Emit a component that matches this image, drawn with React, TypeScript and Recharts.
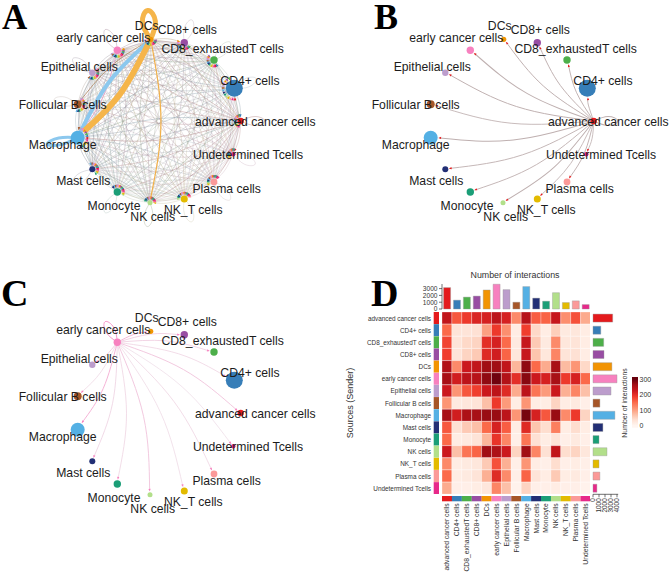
import React from "react";
import { ComposedChart, BarChart, Bar, Line, Scatter, XAxis, YAxis, Cell } from "recharts";

const cellTypes = ["advanced cancer cells","CD4+ cells","CD8_exhaustedT cells","CD8+ cells","DCs","early cancer cells","Epithelial cells","Follicular B cells","Macrophage","Mast cells","Monocyte","NK cells","NK_T cells","Plasma cells","Undetermined Tcells"];
const palette = ["#E41A1C","#377EB8","#4DAF4A","#984EA3","#F29403","#F781BF","#BC9DCC","#A65628","#54B0E4","#222F75","#1B9E77","#B2DF8A","#E3BB00","#FB9A99","#E7298A"];
const nodeX = [240.7,234.3,214,184.3,150.7,117.3,92.3,77.7,77.7,92.3,117.3,150,184.3,214,233.3];
const nodeY = [121,88.3,60,42.7,39.3,50.3,72.7,104.3,137.7,169.3,192,202.7,199,182,154.3];
const nodeR = [3.2,8.5,3.7,3.7,2.6,3.7,3.2,4,7,3,3.7,2.5,3.5,3.4,2.2];
const labelX = [255.3,250,222.7,187.3,146.7,103.3,79.3,62.7,62.7,83.3,114,152.7,193.3,226.7,248];
const labelY = [122,80.7,48.7,30,26,38.3,66.7,105,145,181,206,216.7,210,189,155.3];

const interactions = [
  [235,165,190,210,215,240,215,120,245,160,155,230,115,170,90],
  [150,30,30,35,100,190,115,15,185,45,15,55,20,25,15],
  [180,30,45,50,200,215,150,20,230,60,20,120,25,30,15],
  [185,30,50,60,205,220,155,25,230,65,25,125,30,35,15],
  [250,120,225,235,265,265,235,80,275,150,90,260,75,110,45],
  [260,220,240,245,275,295,250,200,280,225,215,260,190,215,150],
  [225,110,165,185,225,240,205,90,240,140,105,225,85,125,70],
  [110,20,25,30,70,190,105,15,110,15,15,50,15,20,10],
  [260,220,255,260,270,270,240,110,290,215,165,270,120,190,50],
  [165,35,60,70,150,215,160,15,205,65,40,130,15,40,15],
  [150,15,20,30,80,195,125,10,140,35,15,30,10,20,10],
  [225,70,140,155,265,255,225,50,265,125,35,235,40,50,25],
  [120,15,20,25,60,170,85,10,110,15,10,40,10,15,10],
  [150,15,20,30,85,205,120,10,155,30,15,60,15,20,10],
  [90,10,10,15,25,125,70,5,50,10,10,15,10,10,5],
];
const outgoingTotals = [3280,1300,1780,1830,3150,4000,3000,1150,3650,1650,1000,2330,1000,1150,650];
const incomingTotals = [3150,1300,1750,1900,2800,3650,2850,1000,3300,1600,1150,2400,950,1200,650];
const reds = ["#FFF5F0","#FEE0D2","#FCBBA1","#FC9272","#FB6A4A","#EF3B2C","#CB181D","#A50F15","#67000D"];
const countTicks = [0,1000,2000,3000];
const totalTicks = [0,1000,2000,3000,4000];
const legendTicks = [0,100,200,300];
// [sender, receiver, line width, colour] for the strongest edges of panel A
const strongEdges: [number, number, number, string][] = [
  [4,8,6,"#F5B54A"],[8,4,4,"#8CC8EE"],[4,11,1.2,"#F0B04A"],[5,8,1,"#E6A5C8"],[7,4,0.9,"#B08A6A"],
];
const strongLoops: [number, number, number, number, string][] = [
  [4,29,6.5,5,"#F5B54A"],[8,31,3.5,3,"#8CC8EE"],
];

const WIDTH = 316, HEIGHT = 240, CX = 159, CY = 121;
const hex = (c: string) => [1,3,5].map(i => parseInt(c.slice(i,i+2),16));
const mix = (a: string, b: string, t: number) => {
  const A = hex(a), B = hex(b);
  return "rgb(" + A.map((v,i) => Math.round(v*t + B[i]*(1-t))).join(",") + ")";
};
const ramp = (v: number) => {
  const p = Math.min(Math.max(v,0),300)/37.5, i = Math.min(Math.floor(p),7);
  return mix(reds[i+1], reds[i], p-i);
};

function edgeGeometry(i: number, j: number) {
  const x0=nodeX[i], y0=nodeY[i], x1=nodeX[j], y1=nodeY[j];
  const dx=x1-x0, dy=y1-y0;
  const mx=(x0+x1)/2+dy*0.065, my=(y0+y1)/2-dx*0.065;
  const tx=x1-mx, ty=y1-my, n=Math.hypot(tx,ty);
  const gap=nodeR[j]+2;
  const ex=x1-tx/n*gap, ey=y1-ty/n*gap;
  return { points:[{x:x0,y:y0},{x:mx,y:my},{x:ex,y:ey}], arrow:{x:ex,y:ey,angle:Math.atan2(ty,tx)*180/Math.PI} };
}
function loopPoints(i: number, length: number, half: number) {
  const x=nodeX[i], y=nodeY[i];
  const a=Math.atan2(y-CY,x-CX), ux=Math.cos(a), uy=Math.sin(a), vx=-uy, vy=ux;
  return [
    {x,y},
    {x:x+ux*length*0.6+vx*half,y:y+uy*length*0.6+vy*half},
    {x:x+ux*length,y:y+uy*length},
    {x:x+ux*length*0.6-vx*half,y:y+uy*length*0.6-vy*half},
    {x,y},
  ];
}

type EdgeSpec = { key: string; points: any[]; color: string; width: number; opacity: number };

function Network({ senders, left, top, edgeStyle, arrowSize }: any) {
  const edges: EdgeSpec[] = [];
  const arrows: any[] = [];
  senders.forEach((i: number) => {
    cellTypes.forEach((_, j) => {
      if (i===j) {
        const strong = senders.length>1 ? strongLoops.find(s=>s[0]===i) : undefined;
        const st = edgeStyle(i,i,interactions[i][i]);
        edges.push({ key:`l${i}`, points: strong ? loopPoints(i,strong[1],strong[2]) : loopPoints(i,24,4.5),
          color: strong ? strong[4] : st.color, width: strong ? strong[3] : st.width, opacity: strong ? 1 : st.opacity });
        return;
      }
      const g = edgeGeometry(i,j);
      const strong = senders.length>1 ? strongEdges.find(s=>s[0]===i && s[1]===j) : undefined;
      const st = edgeStyle(i,j,interactions[i][j]);
      edges.push({ key:`e${i}-${j}`, points:g.points, color: strong ? strong[3] : st.color, width: strong ? strong[2] : st.width, opacity: strong ? 1 : st.opacity });
      arrows.push({ ...g.arrow, color: palette[i] });
    });
  });
  edges.sort((a,b)=>a.width-b.width);
  const nodes = cellTypes.map((name,i)=>({ name, x:nodeX[i], y:nodeY[i], r:nodeR[i], color:palette[i] }));
  const labels = cellTypes.map((name,i)=>({ name, x:labelX[i], y:labelY[i] }));
  return (
    <div style={{position:"absolute",left,top,width:WIDTH,height:HEIGHT}}>
      <ComposedChart width={WIDTH} height={HEIGHT} margin={{top:0,right:0,bottom:0,left:0}} data={nodes}>
        <XAxis type="number" dataKey="x" domain={[0,WIDTH]} hide allowDataOverflow />
        <YAxis type="number" dataKey="y" domain={[0,HEIGHT]} reversed hide allowDataOverflow />
        {edges.map(e=>(
          <Line key={e.key} data={e.points} dataKey="y" type="natural" stroke={e.color} strokeWidth={e.width} strokeOpacity={e.opacity}
            dot={false} activeDot={false} legendType="none" isAnimationActive={false} />
        ))}
        <Scatter data={nodes} isAnimationActive={false} shape={(p: any)=>(
          <circle cx={p.cx} cy={p.cy} r={p.payload.r} fill={p.payload.color} />
        )} />
        <Scatter data={arrows} isAnimationActive={false} shape={(p: any)=>(
          <polygon points={`${arrowSize},0 ${-arrowSize},${-arrowSize*0.8} ${-arrowSize},${arrowSize*0.8}`} fill={p.payload.color}
            transform={`translate(${p.cx},${p.cy}) rotate(${p.payload.angle})`} />
        )} />
        <Scatter data={labels} isAnimationActive={false} shape={(p: any)=>(
          <text x={p.cx} y={p.cy} textAnchor="middle" dominantBaseline="central" fontSize={12.2} fontFamily="Liberation Sans" fill="#1c1c1c">{p.payload.name}</text>
        )} />
      </ComposedChart>
    </div>
  );
}

const styleA = (i: number, _j: number, v: number) => ({ color: mix(palette[i],"#929292",0.25), width: 0.32+v/300*0.38, opacity: 0.6 });
const styleB = (_i: number, _j: number, v: number) => ({ color: "#bfb0b0", width: 0.7+v/300*0.4, opacity: 1 });
const styleC = (i: number, _j: number, v: number) => ({ color: mix(palette[i],"#ece6ea",0.12+Math.pow(v/300,8)*0.85), width: 0.5+v/300*0.4, opacity: 1 });

const Letter = ({ ch, x, y, size }: any) => (
  <div style={{position:"absolute",left:x,top:y,fontFamily:"Liberation Serif",fontWeight:700,fontSize:size,lineHeight:"40px",color:"#000"}}>{ch}</div>
);
const Caption = ({ text, x, y, size, rotate, color }: any) => (
  <div style={{position:"absolute",left:x,top:y,fontSize:size,lineHeight:"12px",whiteSpace:"nowrap",color,
    transform:`translate(-50%,-50%)${rotate?" rotate(-90deg)":""}`}}>{text}</div>
);

const unitRows = cellTypes.map((name)=>{
  const r: any = { name, unit: 1 };
  cellTypes.forEach((_,j)=>{ r["c"+j]=1; });
  return r;
});
const colTotals = cellTypes.map((name,i)=>({ name, value: incomingTotals[i], unit: 1 }));
const rowTotals = cellTypes.map((name,i)=>({ name, value: outgoingTotals[i] }));
const M0 = {top:0,right:0,bottom:0,left:0};

function Heatmap() {
  return (
    <div style={{position:"absolute",left:441.7,top:311.7,width:148.5,height:182.3}}>
      <BarChart layout="vertical" width={148.5} height={182.3} data={unitRows} margin={M0} barCategoryGap={0}>
        <XAxis type="number" domain={[0,15]} hide />
        <YAxis type="category" dataKey="name" hide />
        {cellTypes.map((_,j)=>(
          <Bar key={j} dataKey={"c"+j} stackId="h" isAnimationActive={false}>
            {cellTypes.map((_2,r)=>(<Cell key={r} fill={ramp(interactions[r][j])} stroke="#ffffff" strokeWidth={0.3} />))}
          </Bar>
        ))}
      </BarChart>
    </div>
  );
}
const RowTick = ({ x, y, payload }: any) => (
  <text x={x} y={y} textAnchor="end" dominantBaseline="central" fontSize={6.4} fontFamily="Liberation Sans" fill="#333">{payload.value}</text>
);
function LeftStrip() {
  return (
    <div style={{position:"absolute",left:362,top:311.7,width:77,height:182.3}}>
      <BarChart layout="vertical" width={77} height={182.3} data={unitRows} margin={M0} barCategoryGap={0}>
        <XAxis type="number" domain={[0,1]} hide />
        <YAxis type="category" dataKey="name" width={71.7} interval={0} tickLine={false} tickSize={0} axisLine={false} tickMargin={2.7} tick={<RowTick />} />
        <Bar dataKey="unit" isAnimationActive={false}>
          {palette.map((c,i)=>(<Cell key={i} fill={c} />))}
        </Bar>
      </BarChart>
    </div>
  );
}
const ColumnTick = ({ x, y, payload }: any) => (
  <text x={x} y={y} transform={`rotate(-90 ${x} ${y})`} textAnchor="end" dominantBaseline="central" fontSize={6.8} fontFamily="Liberation Sans" fill="#333">{payload.value}</text>
);
function BottomStrip() {
  return (
    <div style={{position:"absolute",left:441.7,top:496,width:148.5,height:78}}>
      <BarChart width={148.5} height={78} data={colTotals} margin={M0} barCategoryGap={0}>
        <XAxis type="category" dataKey="name" height={72.7} interval={0} tickLine={false} tickSize={0} axisLine={false} tickMargin={2} tick={<ColumnTick />} />
        <YAxis type="number" domain={[0,1]} hide />
        <Bar dataKey="unit" isAnimationActive={false}>
          {palette.map((c,i)=>(<Cell key={i} fill={c} />))}
        </Bar>
      </BarChart>
    </div>
  );
}
function TopBars() {
  return (
    <div style={{position:"absolute",left:411.7,top:280,width:178.5,height:33}}>
      <BarChart width={178.5} height={33} data={colTotals} margin={{top:4,right:0,bottom:4,left:0}} barCategoryGap="16%">
        <XAxis type="category" dataKey="name" hide />
        <YAxis type="number" domain={[0,3680]} ticks={countTicks} width={30} interval={0} tickSize={3} tickMargin={1.5}
          axisLine={{stroke:"#333",strokeWidth:0.7}} tickLine={{stroke:"#333",strokeWidth:0.7}}
          tick={{fontSize:6.6,fill:"#333",fontFamily:"Liberation Sans"}} />
        <Bar dataKey="value" isAnimationActive={false}>
          {palette.map((c,i)=>(<Cell key={i} fill={c} stroke="#999" strokeWidth={0.4} />))}
        </Bar>
      </BarChart>
    </div>
  );
}
const TotalTick = ({ x, y, payload }: any) => (
  <text x={x} y={y} transform={`rotate(-90 ${x} ${y})`} textAnchor="end" dominantBaseline="central" fontSize={6.4} fontFamily="Liberation Sans" fill="#333">{payload.value}</text>
);
function RightBars() {
  return (
    <div style={{position:"absolute",left:588.5,top:311.7,width:33,height:208}}>
      <BarChart layout="vertical" width={33} height={208} data={rowTotals} margin={{top:0,right:3.8,bottom:0,left:4}} barCategoryGap="17%">
        <XAxis type="number" domain={[0,4200]} ticks={totalTicks} interval={0} height={25.7} tickSize={3} tickMargin={1}
          axisLine={{stroke:"#333",strokeWidth:0.7}} tickLine={{stroke:"#333",strokeWidth:0.7}} tick={<TotalTick />} />
        <YAxis type="category" dataKey="name" hide />
        <Bar dataKey="value" isAnimationActive={false}>
          {palette.map((c,i)=>(<Cell key={i} fill={c} stroke="#999" strokeWidth={0.4} />))}
        </Bar>
      </BarChart>
    </div>
  );
}
function Legend() {
  return (
    <div style={{position:"absolute",left:631.7,top:371.3,width:36,height:62.7}}>
      <BarChart width={36} height={62.7} data={[{name:"legend",range:[-14,314]}]} margin={{top:6,right:0,bottom:6,left:0}} barCategoryGap={0}>
        <defs>
          <linearGradient id="legendRamp" x1="0" y1="1" x2="0" y2="0">
            {reds.map((c,i)=>(<stop key={i} offset={`${(14+i*37.5)/328*100}%`} stopColor={c} />))}
          </linearGradient>
        </defs>
        <XAxis type="category" dataKey="name" hide />
        <YAxis type="number" orientation="right" domain={[-14,314]} ticks={legendTicks} width={30.4} interval={0}
          axisLine={false} tickLine={false} tickSize={0} tickMargin={2} tick={{fontSize:7,fill:"#333",fontFamily:"Liberation Sans"}} />
        <Bar dataKey="range" fill="url(#legendRamp)" isAnimationActive={false} />
      </BarChart>
    </div>
  );
}

export default function App() {
  return (
    <div style={{position:"absolute",left:0,top:0,width:669,height:574,background:"#fff",overflow:"hidden",fontFamily:"Liberation Sans"}}>
      <Network senders={cellTypes.map((_,i)=>i)} left={0} top={0} edgeStyle={styleA} arrowSize={1.6} />
      <Network senders={[0]} left={353.3} top={0} edgeStyle={styleB} arrowSize={1.4} />
      <Network senders={[5]} left={0} top={292} edgeStyle={styleC} arrowSize={1.4} />
      <Letter ch="A" x={2} y={-2} size={35} />
      <Letter ch="B" x={374} y={-3} size={36} />
      <Letter ch="C" x={1} y={273} size={38} />
      <Letter ch="D" x={371} y={273} size={38} />
      <Caption text="Number of interactions" x={515} y={275} size={8.85} color="#333" />
      <Caption text="Sources (Sender)" x={349.5} y={402.5} size={9} rotate color="#333" />
      <Caption text="Number of interactions" x={625} y={402.5} size={6.9} rotate color="#333" />
      <TopBars />
      <LeftStrip />
      <Heatmap />
      <BottomStrip />
      <RightBars />
      <Legend />
    </div>
  );
}
